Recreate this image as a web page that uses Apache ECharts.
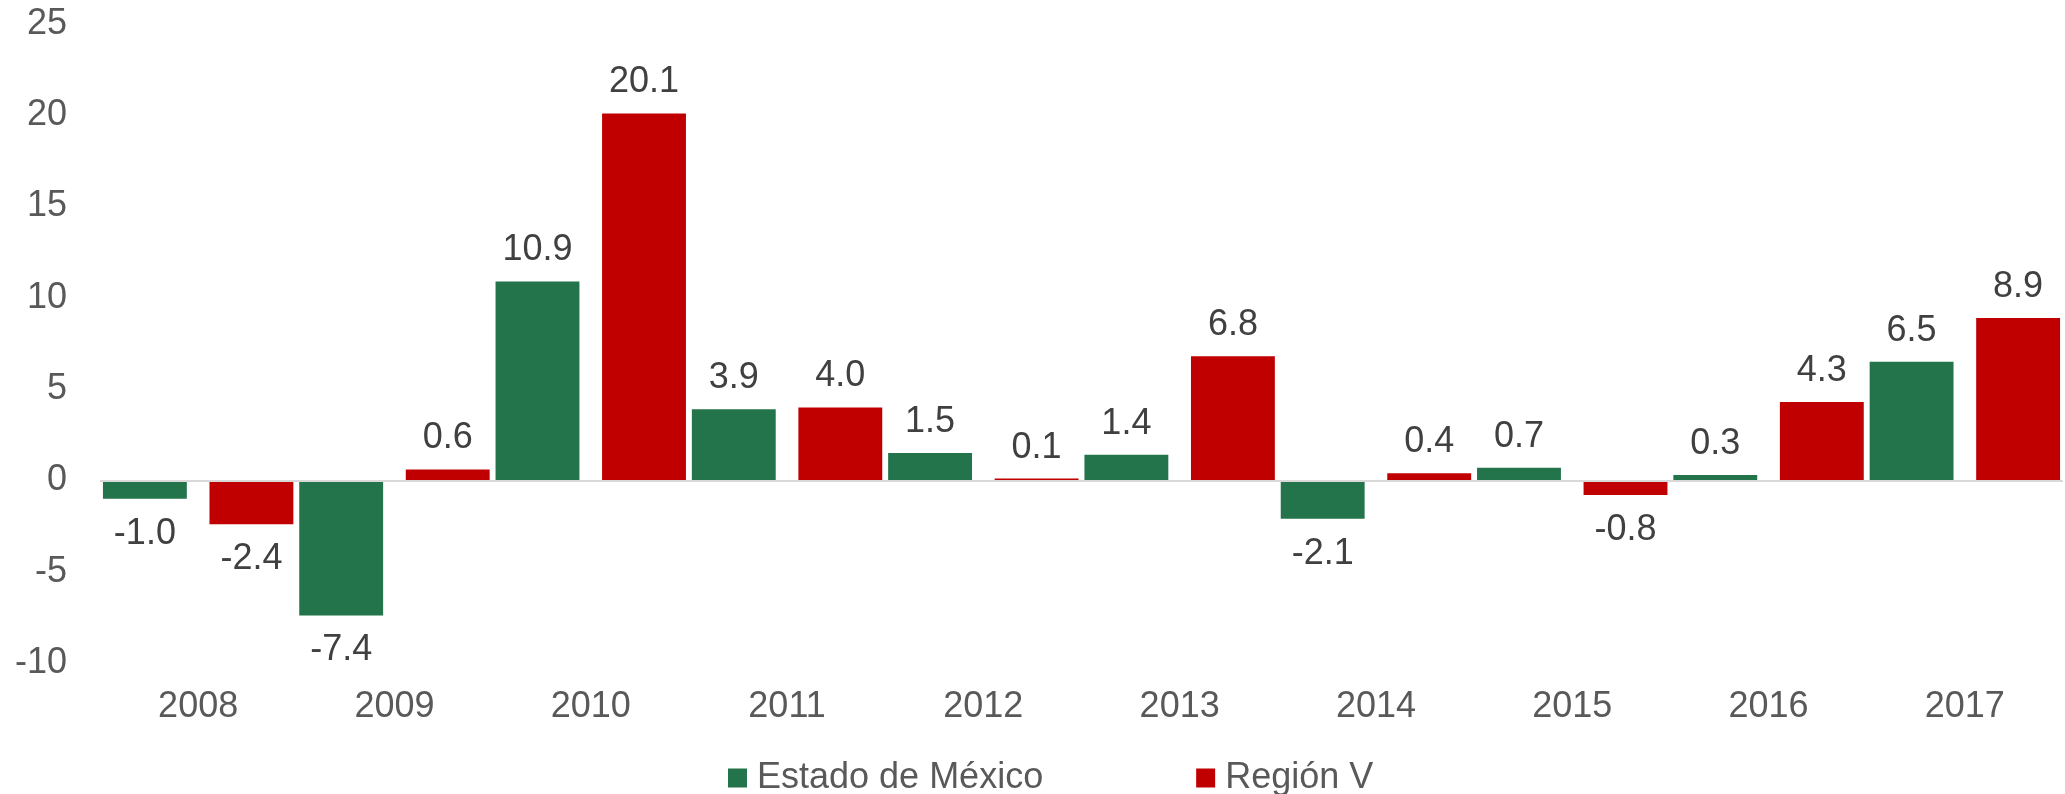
<!DOCTYPE html>
<html>
<head>
<meta charset="utf-8">
<script src="https://cdn.jsdelivr.net/npm/echarts@6/dist/echarts.min.js"></script>
<style>
    html, body { margin: 0; padding: 0; background: #fff; }
    #myChart { width: 2065px; height: 794px; }
</style>
</head>
<body>
<div id="myChart"></div>
<script>
//数据
var years = ['2008', '2009', '2010', '2011', '2012', '2013', '2014', '2015', '2016', '2017'];
var estadoMexico = [-1.0, -7.4, 10.9, 3.9, 1.5, 1.4, -2.1, 0.7, 0.3, 6.5];
var regionV = [-2.4, 0.6, 20.1, 4.0, 0.1, 6.8, 0.4, -0.8, 4.3, 8.9];
var yTicks = [-10, -5, 0, 5, 10, 15, 20, 25];

//负数标签放下面
function toBarData(values) {
    return values.map(function (v) {
        return {
            value: v,
            label: {
                position: v < 0 ? 'bottom' : 'top',
                distance: v < 0 ? 17 : 13
            }
        };
    });
}

function getSeries(name, values, color) {
    return {
        name: name,
        type: 'bar',
        barGap: '27%',
        barCategoryGap: '3%',
        itemStyle: { color: color },
        label: {
            show: true,
            color: '#404040',
            fontSize: 36,
            fontFamily: 'Liberation Sans, Arial, sans-serif',
            formatter: function (p) {
                return p.value.toFixed(1);
            }
        },
        data: toBarData(values)
    };
}

var myChart = echarts.init(document.getElementById('myChart'));
var option = {
    animation: false,
    backgroundColor: '#fff',
    grid: {
        left: 100,
        right: 2,
        top: 24,
        bottom: 131
    },
    legend: {
        top: 755,
        left: 723,
        itemWidth: 19,
        itemHeight: 19,
        itemGap: 153,
        icon: 'rect',
        textStyle: {
            fontSize: 36,
            color: '#595959',
            fontFamily: 'Liberation Sans, Arial, sans-serif',
            padding: [0, 0, 0, 5]
        },
        data: ['Estado de México', 'Región V']
    },
    xAxis: {
        type: 'category',
        data: years,
        axisTick: { show: false },
        axisLine: {
            onZero: false,
            show: false
        },
        axisLabel: {
            color: '#595959',
            fontSize: 36,
            margin: 26,
            fontFamily: 'Liberation Sans, Arial, sans-serif'
        }
    },
    yAxis: {
        type: 'value',
        min: yTicks[0],
        max: yTicks[yTicks.length - 1],
        interval: 5,
        splitLine: { show: false },
        axisLine: { show: false },
        axisTick: { show: false },
        axisLabel: {
            color: '#595959',
            fontSize: 36,
            margin: 33,
            fontFamily: 'Liberation Sans, Arial, sans-serif'
        }
    },
    series: [
        getSeries('Estado de México', estadoMexico, '#23744a'),
        getSeries('Región V', regionV, '#c00000'),
        {
            //零线
            type: 'line',
            data: [],
            markLine: {
                silent: true,
                symbol: 'none',
                label: { show: false },
                lineStyle: { color: '#d9d9d9', width: 2, type: 'solid' },
                data: [{ yAxis: 0 }]
            }
        }
    ]
};
myChart.setOption(option);
</script>
</body>
</html>
